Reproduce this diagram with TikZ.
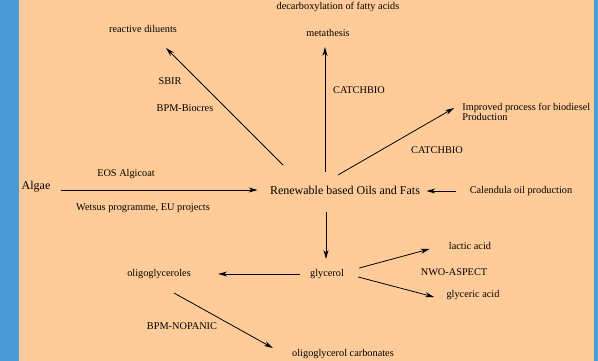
\documentclass[tikz,border=0pt]{standalone}
\usepackage{fontspec}
\setmainfont{Liberation Serif}
\usetikzlibrary{arrows.meta}
\definecolor{peach}{RGB}{255,204,153}
\definecolor{frameblue}{RGB}{74,155,215}
\begin{document}
\begin{tikzpicture}[x=1pt,y=-1pt,>={Stealth[length=9pt,width=5pt]},line width=.8pt,
  every node/.style={inner sep=0pt,font=\fontsize{10.3}{10.5}\selectfont},
  big/.style={font=\fontsize{12}{14}\selectfont}]
\fill[frameblue](0,0) rectangle (598,361);
\fill[peach](19,0) rectangle (594,361);
\useasboundingbox (0,0) rectangle (598,361);
% products and sources
\node[big] (oils) at (345,190){Renewable based Oils and Fats};
\node[big] (algae) at (36,187){Algae};
\node (react) at (143,29){reactive diluents};
\node (decarb) at (338,7){decarboxylation of fatty acids};
\node (meta) at (328,33){metathesis};
\node[anchor=west,align=left] (improved) at (462,112){Improved process for biodiesel\\Production};
\node (calendula) at (521,191){Calendula oil production};
\node (glycerol) at (327,274){glycerol};
\node (oligo) at (159,274){oligoglyceroles};
\node (lactic) at (470,246){lactic acid};
\node (glyceric) at (473,295){glyceric acid};
\node (carb) at (343,354){oligoglycerol carbonates};
% project labels
\node (sbir) at (170,81){SBIR};
\node (biocres) at (185,108){BPM-Biocres};
\node (catch1) at (359,90){CATCHBIO};
\node (catch2) at (437,150){CATCHBIO};
\node (eos) at (126,174){EOS Algicoat};
\node (wetsus) at (143,208){Wetsus programme, EU projects};
\node (nwo) at (454,272){NWO-ASPECT};
\node (nopanic) at (182,326){BPM-NOPANIC};
% arrows
\draw[->]([xshift=-62pt,yshift=25pt]oils.center)--([xshift=23pt,yshift=-19pt]react.center);
\draw[->]([xshift=-20pt,yshift=18pt]oils.center)--([xshift=-3pt,yshift=-14pt]meta.center);
\draw[->]([xshift=-7pt,yshift=15pt]oils.center)--([xshift=-8pt,yshift=4pt]improved.west);
\draw[->]([xshift=10pt,yshift=-3pt]algae.east)--([xshift=-12pt]oils.west);
\draw[->]([xshift=-13pt]calendula.west)--([xshift=6pt,yshift=-1pt]oils.east);
\draw[->]([xshift=-19pt,yshift=-22pt]oils.center)--([xshift=-1pt,yshift=15pt]glycerol.center);
\draw[->]([xshift=-10pt]glycerol.west)--([xshift=27pt]oligo.east);
\draw[->]([xshift=15pt,yshift=6pt]glycerol.east)--([xshift=-19pt,yshift=-3pt]lactic.west);
\draw[->]([xshift=14pt,yshift=-3pt]glycerol.east)--([xshift=-12pt,yshift=-2pt]glyceric.west);
\draw[->]([xshift=15pt,yshift=-19pt]oligo.center)--([xshift=-19pt,yshift=6pt]carb.west);
\end{tikzpicture}
\end{document}
